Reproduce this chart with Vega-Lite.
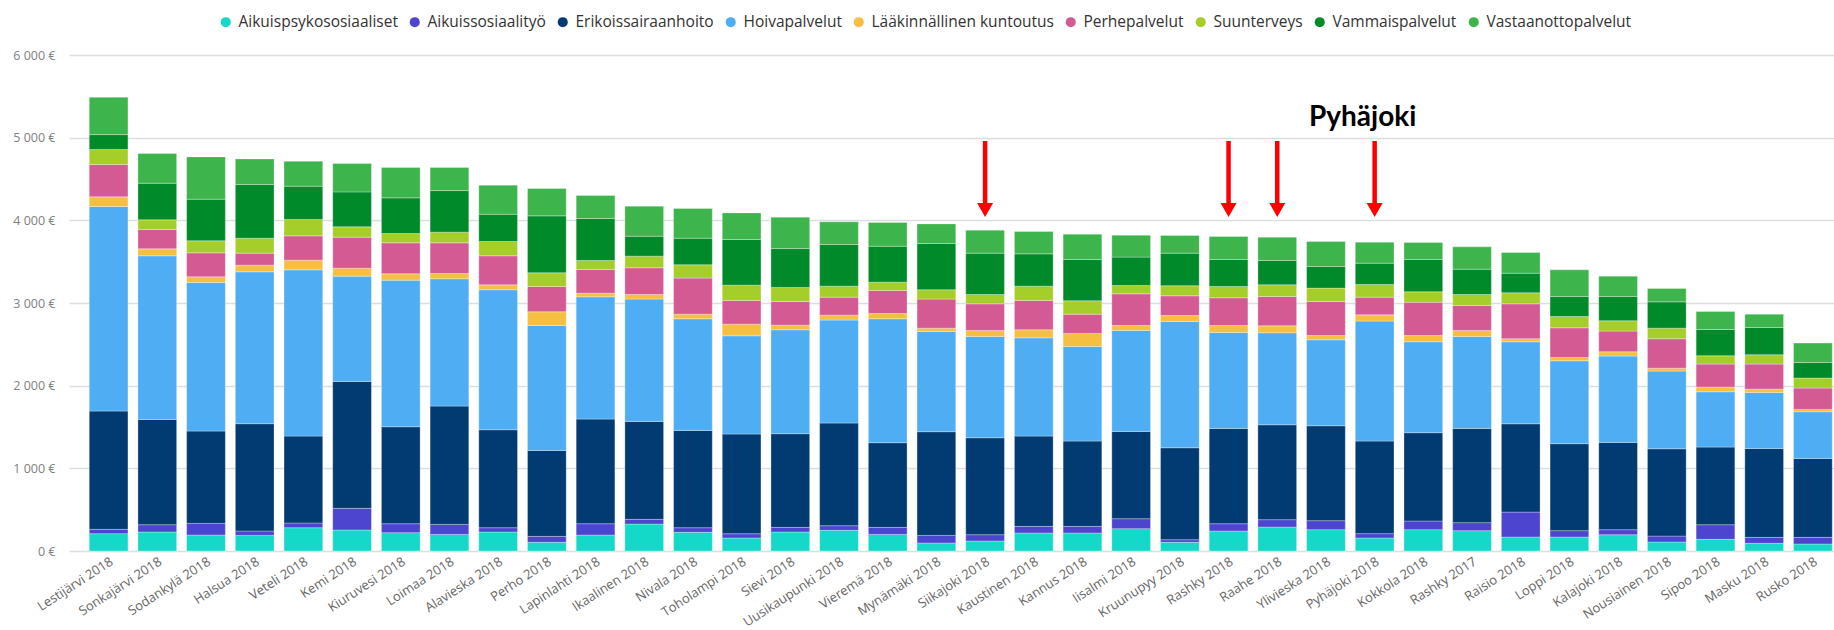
{
  "$schema": "https://vega.github.io/schema/vega-lite/v6.json",
  "width": 1765,
  "height": 496,
  "autosize": {"type": "none"},
  "padding": {"left": 69, "top": 55, "right": 0, "bottom": 79},
  "background": "white",
  "config": {"font": "Open Sans", "view": {"stroke": null}},
  "datasets": {
    "kunnat": [
      {"kunta": "Lestijärvi 2018", "psyk": 210, "sos": 52, "esh": 1431, "hoiva": 2474, "laak": 117, "perhe": 391, "suun": 181, "vamm": 181, "vast": 452},
      {"kunta": "Sonkajärvi 2018", "psyk": 230, "sos": 88, "esh": 1274, "hoiva": 1979, "laak": 84, "perhe": 234, "suun": 117, "vamm": 443, "vast": 359},
      {"kunta": "Sodankylä 2018", "psyk": 193, "sos": 141, "esh": 1117, "hoiva": 1797, "laak": 69, "perhe": 290, "suun": 145, "vamm": 504, "vast": 511},
      {"kunta": "Halsua 2018", "psyk": 189, "sos": 53, "esh": 1298, "hoiva": 1837, "laak": 81, "perhe": 145, "suun": 181, "vamm": 649, "vast": 310},
      {"kunta": "Veteli 2018", "psyk": 282, "sos": 57, "esh": 1051, "hoiva": 2011, "laak": 117, "perhe": 294, "suun": 198, "vamm": 403, "vast": 302},
      {"kunta": "Kemi 2018", "psyk": 254, "sos": 262, "esh": 1535, "hoiva": 1274, "laak": 96, "perhe": 375, "suun": 125, "vamm": 423, "vast": 343},
      {"kunta": "Kiuruvesi 2018", "psyk": 222, "sos": 108, "esh": 1173, "hoiva": 1773, "laak": 77, "perhe": 375, "suun": 113, "vamm": 431, "vast": 367},
      {"kunta": "Loimaa 2018", "psyk": 201, "sos": 121, "esh": 1431, "hoiva": 1540, "laak": 64, "perhe": 371, "suun": 129, "vamm": 503, "vast": 279},
      {"kunta": "Alavieska 2018", "psyk": 230, "sos": 52, "esh": 1185, "hoiva": 1693, "laak": 60, "perhe": 351, "suun": 173, "vamm": 330, "vast": 351},
      {"kunta": "Perho 2018", "psyk": 105, "sos": 72, "esh": 1040, "hoiva": 1511, "laak": 166, "perhe": 306, "suun": 165, "vamm": 689, "vast": 331},
      {"kunta": "Lapinlahti 2018", "psyk": 193, "sos": 137, "esh": 1266, "hoiva": 1479, "laak": 44, "perhe": 286, "suun": 109, "vamm": 508, "vast": 278},
      {"kunta": "Ikaalinen 2018", "psyk": 326, "sos": 57, "esh": 1185, "hoiva": 1479, "laak": 56, "perhe": 323, "suun": 141, "vamm": 241, "vast": 363},
      {"kunta": "Nivala 2018", "psyk": 226, "sos": 56, "esh": 1177, "hoiva": 1350, "laak": 56, "perhe": 436, "suun": 161, "vamm": 322, "vast": 359},
      {"kunta": "Toholampi 2018", "psyk": 157, "sos": 52, "esh": 1206, "hoiva": 1188, "laak": 141, "perhe": 287, "suun": 185, "vamm": 552, "vast": 322},
      {"kunta": "Sievi 2018", "psyk": 230, "sos": 56, "esh": 1133, "hoiva": 1257, "laak": 56, "perhe": 286, "suun": 170, "vamm": 471, "vast": 379},
      {"kunta": "Uusikaupunki 2018", "psyk": 250, "sos": 56, "esh": 1242, "hoiva": 1245, "laak": 60, "perhe": 218, "suun": 133, "vamm": 504, "vast": 274},
      {"kunta": "Vieremä 2018", "psyk": 201, "sos": 85, "esh": 1024, "hoiva": 1499, "laak": 64, "perhe": 278, "suun": 101, "vamm": 435, "vast": 287},
      {"kunta": "Mynämäki 2018", "psyk": 97, "sos": 92, "esh": 1254, "hoiva": 1213, "laak": 40, "perhe": 351, "suun": 113, "vamm": 560, "vast": 237},
      {"kunta": "Siikajoki 2018", "psyk": 121, "sos": 76, "esh": 1173, "hoiva": 1225, "laak": 73, "perhe": 322, "suun": 113, "vamm": 500, "vast": 278},
      {"kunta": "Kaustinen 2018", "psyk": 218, "sos": 80, "esh": 1092, "hoiva": 1189, "laak": 97, "perhe": 355, "suun": 173, "vamm": 391, "vast": 270},
      {"kunta": "Kannus 2018", "psyk": 218, "sos": 80, "esh": 1032, "hoiva": 1144, "laak": 158, "perhe": 233, "suun": 162, "vamm": 499, "vast": 307},
      {"kunta": "Iisalmi 2018", "psyk": 270, "sos": 121, "esh": 1056, "hoiva": 1221, "laak": 60, "perhe": 383, "suun": 101, "vamm": 343, "vast": 265},
      {"kunta": "Kruunupyy 2018", "psyk": 105, "sos": 32, "esh": 1112, "hoiva": 1528, "laak": 72, "perhe": 238, "suun": 121, "vamm": 395, "vast": 213},
      {"kunta": "Rashky 2018", "psyk": 242, "sos": 88, "esh": 1153, "hoiva": 1161, "laak": 84, "perhe": 335, "suun": 137, "vamm": 326, "vast": 278},
      {"kunta": "Raahe 2018", "psyk": 290, "sos": 89, "esh": 1148, "hoiva": 1113, "laak": 84, "perhe": 355, "suun": 141, "vamm": 294, "vast": 282},
      {"kunta": "Ylivieska 2018", "psyk": 258, "sos": 109, "esh": 1148, "hoiva": 1040, "laak": 52, "perhe": 411, "suun": 162, "vamm": 262, "vast": 302},
      {"kunta": "Pyhäjoki 2018", "psyk": 157, "sos": 53, "esh": 1120, "hoiva": 1451, "laak": 76, "perhe": 214, "suun": 153, "vamm": 258, "vast": 254},
      {"kunta": "Kokkola 2018", "psyk": 258, "sos": 105, "esh": 1068, "hoiva": 1100, "laak": 76, "perhe": 403, "suun": 125, "vamm": 391, "vast": 206},
      {"kunta": "Rashky 2017", "psyk": 246, "sos": 97, "esh": 1140, "hoiva": 1112, "laak": 73, "perhe": 302, "suun": 133, "vamm": 306, "vast": 270},
      {"kunta": "Raisio 2018", "psyk": 169, "sos": 302, "esh": 1068, "hoiva": 992, "laak": 36, "perhe": 423, "suun": 133, "vamm": 238, "vast": 250},
      {"kunta": "Loppi 2018", "psyk": 169, "sos": 77, "esh": 1052, "hoiva": 1003, "laak": 40, "perhe": 359, "suun": 137, "vamm": 242, "vast": 322},
      {"kunta": "Kalajoki 2018", "psyk": 197, "sos": 61, "esh": 1056, "hoiva": 1044, "laak": 52, "perhe": 250, "suun": 125, "vamm": 294, "vast": 246},
      {"kunta": "Nousiainen 2018", "psyk": 109, "sos": 72, "esh": 1056, "hoiva": 939, "laak": 36, "perhe": 355, "suun": 129, "vamm": 318, "vast": 162},
      {"kunta": "Sipoo 2018", "psyk": 141, "sos": 177, "esh": 939, "hoiva": 669, "laak": 57, "perhe": 278, "suun": 101, "vamm": 318, "vast": 218},
      {"kunta": "Masku 2018", "psyk": 93, "sos": 72, "esh": 1076, "hoiva": 677, "laak": 41, "perhe": 302, "suun": 113, "vamm": 330, "vast": 161},
      {"kunta": "Rusko 2018", "psyk": 85, "sos": 80, "esh": 955, "hoiva": 565, "laak": 28, "perhe": 258, "suun": 121, "vamm": 189, "vast": 234}
    ],
    "palvelut": [
      {"avain": "psyk", "nimi": "Aikuispsykososiaaliset"},
      {"avain": "sos", "nimi": "Aikuissosiaalityö"},
      {"avain": "esh", "nimi": "Erikoissairaanhoito"},
      {"avain": "hoiva", "nimi": "Hoivapalvelut"},
      {"avain": "laak", "nimi": "Lääkinnällinen kuntoutus"},
      {"avain": "perhe", "nimi": "Perhepalvelut"},
      {"avain": "suun", "nimi": "Suunterveys"},
      {"avain": "vamm", "nimi": "Vammaispalvelut"},
      {"avain": "vast", "nimi": "Vastaanottopalvelut"}
    ],
    "nuolet": [
      {"kunta": "Siikajoki 2018"},
      {"kunta": "Rashky 2018"},
      {"kunta": "Raahe 2018"},
      {"kunta": "Pyhäjoki 2018"}
    ],
    "otsikko": [
      {"kunta": "Pyhäjoki 2018", "teksti": "Pyhäjoki"}
    ]
  },
  "layer": [
    {
      "data": {"name": "kunnat"},
      "transform": [
        {"fold": ["psyk", "sos", "esh", "hoiva", "laak", "perhe", "suun", "vamm", "vast"], "as": ["avain", "eur"]},
        {"lookup": "avain", "from": {"data": {"name": "palvelut"}, "key": "avain", "fields": ["nimi"]}}
      ],
      "mark": {"type": "bar", "stroke": "white", "strokeWidth": 0.6, "strokeOpacity": 0.5},
      "encoding": {
        "x": {
          "field": "kunta", "type": "nominal", "sort": null,
          "scale": {"paddingInner": 0.205, "paddingOuter": 0.226, "align": 0.92},
          "axis": {"title": null, "domain": false, "ticks": false, "grid": false, "labelAngle": -33, "labelAlign": "right", "labelBaseline": "top", "labelFontSize": 13, "labelColor": "#666666", "labelPadding": 4, "labelOffset": 0}
        },
        "y": {
          "field": "eur", "type": "quantitative", "stack": "zero",
          "scale": {"domain": [0, 6000], "nice": false},
          "axis": {"title": null, "domain": false, "ticks": false, "values": [0, 1000, 2000, 3000, 4000, 5000, 6000], "labelExpr": "replace(format(datum.value, ',d'), ',', ' ') + ' €'", "labelFontSize": 12.5, "labelColor": "#808080", "labelPadding": 14, "gridColor": "#dcdede", "gridWidth": 1.5}
        },
        "color": {
          "field": "nimi", "type": "nominal",
          "scale": {
            "domain": ["Aikuispsykososiaaliset", "Aikuissosiaalityö", "Erikoissairaanhoito", "Hoivapalvelut", "Lääkinnällinen kuntoutus", "Perhepalvelut", "Suunterveys", "Vammaispalvelut", "Vastaanottopalvelut"],
            "range": ["#14D8C8", "#4D44CF", "#013B72", "#4EADF3", "#F5BF42", "#D45A94", "#A6CE2B", "#008A2A", "#3DB44C"]
          },
          "legend": {"title": null, "orient": "none", "legendX": 149, "legendY": -41, "direction": "horizontal", "symbolType": "circle", "symbolSize": 100, "symbolStrokeWidth": 0, "labelFontSize": 15.5, "labelLimit": 400, "labelColor": "#333333", "columnPadding": 9, "labelOffset": 5}
        },
        "order": {"field": "nimi", "sort": "ascending"}
      }
    },
    {
      "data": {"name": "nuolet"},
      "mark": {"type": "rule", "color": "#ff0000", "strokeWidth": 4.5},
      "encoding": {
        "x": {"field": "kunta", "type": "nominal", "sort": null},
        "y": {"datum": 4960},
        "y2": {"datum": 4200}
      }
    },
    {
      "data": {"name": "nuolet"},
      "mark": {"type": "point", "shape": "triangle-down", "filled": true, "color": "#ff0000", "size": 256, "opacity": 1},
      "encoding": {
        "x": {"field": "kunta", "type": "nominal", "sort": null},
        "y": {"datum": 4125}
      }
    },
    {
      "data": {"name": "otsikko"},
      "mark": {"type": "text", "font": "Lato", "fontWeight": "bold", "fontSize": 28, "color": "#000000", "dx": -12, "baseline": "middle"},
      "encoding": {
        "x": {"field": "kunta", "type": "nominal", "sort": null},
        "y": {"datum": 5240},
        "text": {"field": "teksti"}
      }
    }
  ]
}
